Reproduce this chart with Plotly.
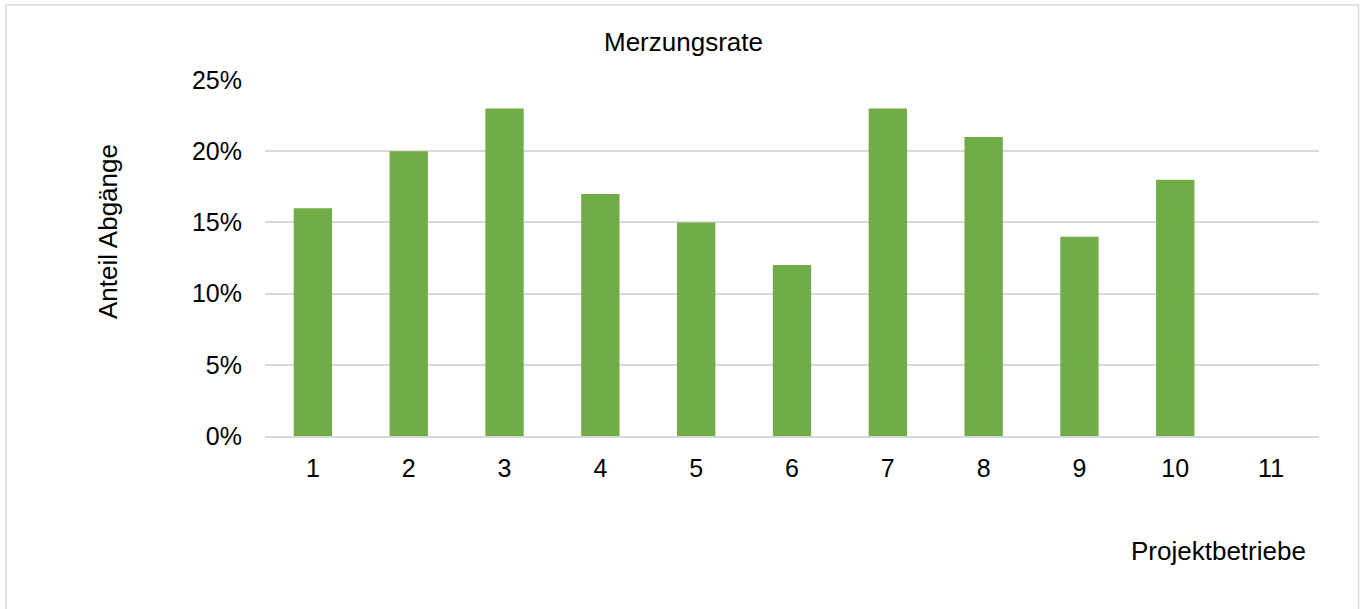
import plotly.graph_objects as go

categories = ["1", "2", "3", "4", "5", "6", "7", "8", "9", "10", "11"]
values = [0.16, 0.20, 0.23, 0.17, 0.15, 0.12, 0.23, 0.21, 0.14, 0.18, None]
y_ticks = [0, 0.05, 0.10, 0.15, 0.20, 0.25]
y_labels = ["0%", "5%", "10%", "15%", "20%", "25%"]

W, H = 1363, 609
L, R, T, B = 265, 44, 80, 173
pw, ph = W - L - R, H - T - B


def px(x):
    return (x - L) / pw


def py(y):
    return (H - B - y) / ph


FONT = "Liberation Sans, Arial, sans-serif"

fig = go.Figure(go.Bar(x=categories, y=values, marker_color="#70AD47",
                       marker_line_width=0))

fig.update_layout(
    width=W, height=H,
    margin=dict(l=L, r=R, t=T, b=B),
    paper_bgcolor="white", plot_bgcolor="white",
    bargap=0.6, showlegend=False,
    font=dict(family=FONT, size=25, color="#000000"),
    xaxis=dict(type="category", showgrid=False, showline=True, linecolor="#d9d9d9",
               linewidth=1.5, ticks="", ticklabelstandoff=9,
               tickfont=dict(size=25, color="#000000")),
    yaxis=dict(range=[0, 0.25], tickvals=y_ticks, ticktext=y_labels,
               showgrid=True, gridcolor="#d9d9d9", gridwidth=1.5, zeroline=False,
               showline=False, ticks="", ticklabelstandoff=22,
               tickfont=dict(size=25, color="#000000")),
    annotations=[
        dict(text="Merzungsrate", x=px(683), y=py(42), xref="paper", yref="paper",
             showarrow=False, xanchor="center", yanchor="middle",
             font=dict(size=26, color="#000000", family=FONT)),
        dict(text="Anteil Abgänge", x=px(108), y=py(232), xref="paper", yref="paper",
             showarrow=False, xanchor="center", yanchor="middle", textangle=-90,
             font=dict(size=26, color="#000000", family=FONT)),
        dict(text="Projektbetriebe", x=px(1218), y=py(551), xref="paper", yref="paper",
             showarrow=False, xanchor="center", yanchor="middle",
             font=dict(size=26, color="#000000", family=FONT)),
    ],
    shapes=[
        dict(type="rect", xref="paper", yref="paper",
             x0=px(6), x1=px(1358.5), y0=py(620), y1=py(5),
             line=dict(color="#d9d9d9", width=1.5), fillcolor="rgba(0,0,0,0)",
             layer="below"),
    ],
)

fig.write_html("out.html", config={"displayModeBar": False},
               post_script="document.body.style.margin='0';document.body.style.overflow='hidden';")
